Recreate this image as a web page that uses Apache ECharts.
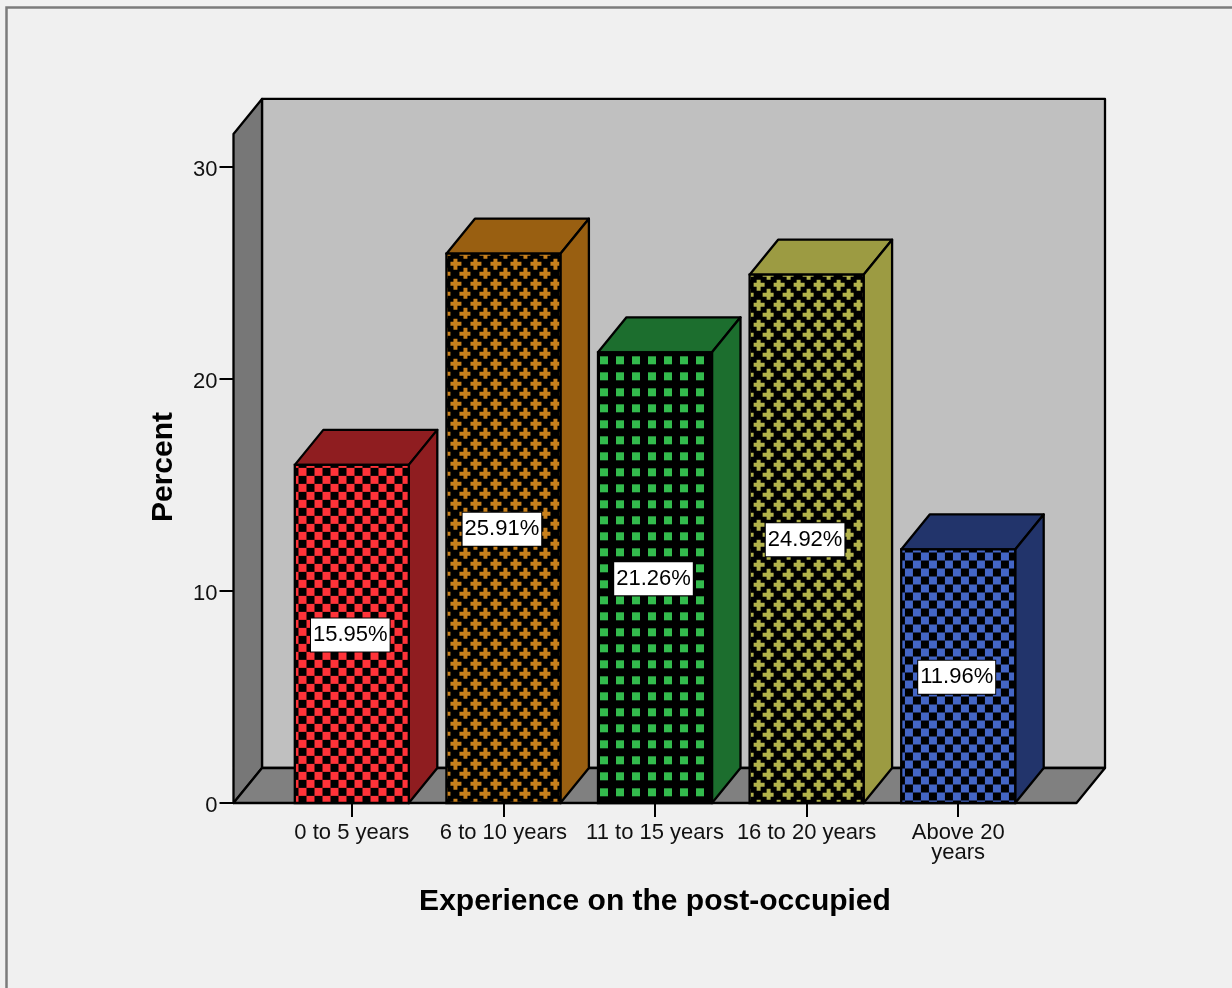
<!DOCTYPE html>
<html>
<head>
<meta charset="utf-8">
<title>Experience on the post-occupied</title>
<style>
  html, body { margin: 0; padding: 0; background: #f0f0f0; overflow: hidden; }
  #chart { width: 1232px; height: 988px; }
</style>
<script src="https://cdn.jsdelivr.net/npm/echarts@6/dist/echarts.min.js"></script>
</head>
<body>
<div id="chart"></div>
<script>
// Survey result: share of respondents by years of experience on the post occupied.
const categories = ['0 to 5 years', '6 to 10 years', '11 to 15 years', '16 to 20 years', 'Above 20\nyears'];
const percentValues = [15.95, 25.91, 21.26, 24.92, 11.96];
const yTicks = [0, 10, 20, 30];

// Per-bar styling: hatch kind, hatch colour, solid colour of the top and side faces.
const hatchKinds = ['check', 'cross', 'square', 'cross', 'check'];
const hatchColors = ['#ff3339', '#c8801c', '#33bb4d', '#b3b34c', '#4466c6'];
const sideColors = ['#8f1d20', '#995f11', '#1c6e2e', '#9c9b42', '#22346b'];

const depthX = 28.5;       // horizontal shift of the 3D extrusion
const depthY = 35;         // vertical shift of the 3D extrusion
const wallTopValue = 31.56;
const barWidth = 114;
const FONT = '"Liberation Sans", Arial, sans-serif';
const LINE = '#000';
const STROKE = 2.3;

function makeHatch(kind, color) {
  const size = kind === 'cross' ? 20 : 16;
  const c = document.createElement('canvas');
  c.width = c.height = size;
  const g = c.getContext('2d');
  g.fillStyle = '#000';
  g.fillRect(0, 0, size, size);
  g.fillStyle = color;
  if (kind === 'check') {
    g.fillRect(0, 0, 8, 8);
    g.fillRect(8, 8, 8, 8);
  } else if (kind === 'square') {
    g.fillRect(2, 4, 8, 8);
  } else {
    [[5, 5], [15, 15]].forEach(function (p) {
      g.fillRect(p[0] - 2, p[1] - 6, 4, 12);
      g.fillRect(p[0] - 6, p[1] - 2, 12, 4);
    });
  }
  return c;
}

const hatches = hatchKinds.map(function (k, i) { return makeHatch(k, hatchColors[i]); });
const hatchOffset = { check: [3.7, 3], square: [0, 0], cross: [4, 5] };

function poly(points, fill) {
  return {
    type: 'polygon',
    shape: { points: points },
    style: { fill: fill, stroke: LINE, lineWidth: STROKE, lineJoin: 'round' }
  };
}

// Box backdrop: back wall, left wall and floor.
function renderWalls(params, api) {
  const cs = params.coordSys;
  const left = cs.x - 42.5;
  const right = cs.x + cs.width + 42.5;
  const bottom = api.coord([0, 0])[1];
  const top = api.coord([0, wallTopValue])[1];
  return {
    type: 'group',
    children: [
      poly([[left + depthX, top - depthY], [right + depthX, top - depthY],
            [right + depthX, bottom - depthY], [left + depthX, bottom - depthY]], '#c0c0c0'),
      poly([[left, top], [left + depthX, top - depthY],
            [left + depthX, bottom - depthY], [left, bottom]], '#777777'),
      poly([[left, bottom], [left + depthX, bottom - depthY],
            [right + depthX, bottom - depthY], [right, bottom]], '#808080')
    ]
  };
}

// One extruded bar: hatched front, solid top and side, boxed value label.
function renderBar(params, api) {
  const i = api.value(0);
  const v = api.value(1);
  const base = api.coord([i, 0]);
  const tip = api.coord([i, v]);
  const x0 = base[0] - barWidth / 2;
  const x1 = base[0] + barWidth / 2;
  const off = hatchOffset[hatchKinds[i]];
  return {
    type: 'group',
    children: [
      poly([[x0, tip[1]], [x0 + depthX, tip[1] - depthY],
            [x1 + depthX, tip[1] - depthY], [x1, tip[1]]], sideColors[i]),
      poly([[x1, tip[1]], [x1 + depthX, tip[1] - depthY],
            [x1 + depthX, base[1] - depthY], [x1, base[1]]], sideColors[i]),
      {
        type: 'rect',
        shape: { x: x0, y: tip[1], width: barWidth, height: base[1] - tip[1] },
        style: {
          fill: { image: hatches[i], repeat: 'repeat', x: x0 + off[0], y: tip[1] + off[1] },
          stroke: LINE,
          lineWidth: STROKE
        }
      },
      {
        type: 'text',
        x: base[0] - 1.5,
        y: (base[1] + tip[1]) / 2 + 1,
        style: {
          text: v.toFixed(2) + '%',
          font: '22px ' + FONT,
          fill: '#000',
          align: 'center',
          verticalAlign: 'middle',
          backgroundColor: '#fff',
          borderColor: '#000',
          borderWidth: 1,
          padding: [6, 2, 5, 2]
        }
      }
    ]
  };
}

const chart = echarts.init(document.getElementById('chart'), null, { renderer: 'canvas' });
chart.setOption({
  backgroundColor: '#f0f0f0',
  animation: false,
  grid: { left: 276, width: 758, top: 167, height: 636, containLabel: false },
  graphic: [{
    type: 'rect',
    silent: true,
    z: -1,
    shape: { x: 6.5, y: 7.5, width: 1400, height: 1200 },
    style: { fill: 'transparent', stroke: '#7b7b7b', lineWidth: 2.5 }
  }],
  xAxis: {
    type: 'category',
    data: categories,
    boundaryGap: true,
    axisLine: { show: true, lineStyle: { color: LINE, width: 2 } },
    axisTick: { show: true, alignWithLabel: true, length: 14, lineStyle: { color: LINE, width: 2 } },
    axisLabel: {
      color: '#111',
      fontFamily: FONT,
      fontSize: 22,
      lineHeight: 20,
      margin: 20,
      interval: 0
    },
    name: 'Experience on the post-occupied',
    nameLocation: 'middle',
    nameGap: 84,
    nameTextStyle: { color: '#000', fontFamily: FONT, fontSize: 30, fontWeight: 'bold' }
  },
  yAxis: {
    type: 'value',
    min: 0,
    max: 30,
    interval: 10,
    offset: 42.5,
    splitLine: { show: false },
    axisLine: { show: true, lineStyle: { color: LINE, width: 2 } },
    axisTick: { show: true, length: 14, lineStyle: { color: LINE, width: 2 } },
    axisLabel: {
      color: '#111',
      fontFamily: FONT,
      fontSize: 22,
      margin: 16,
      formatter: function (v) { return yTicks.indexOf(v) >= 0 ? '{n|' + v + '}' : ''; },
      rich: { n: { color: '#111', fontFamily: FONT, fontSize: 22, padding: [6, 0, 0, 0] } }
    },
    name: 'Percent',
    nameLocation: 'middle',
    nameGap: 55,
    nameMoveOverlap: false,
    nameRotate: 90,
    nameTextStyle: { color: '#000', fontFamily: FONT, fontSize: 30, fontWeight: 'bold', padding: [0, 0, 0, 36] }
  },
  series: [
    {
      type: 'custom',
      coordinateSystem: 'cartesian2d',
      clip: false,
      silent: true,
      z: 1,
      data: [[0, 0]],
      renderItem: renderWalls
    },
    {
      type: 'custom',
      coordinateSystem: 'cartesian2d',
      clip: false,
      z: 3,
      data: percentValues.map(function (v, i) { return [i, v]; }),
      encode: { x: 0, y: 1 },
      renderItem: renderBar
    }
  ]
});
</script>
</body>
</html>
